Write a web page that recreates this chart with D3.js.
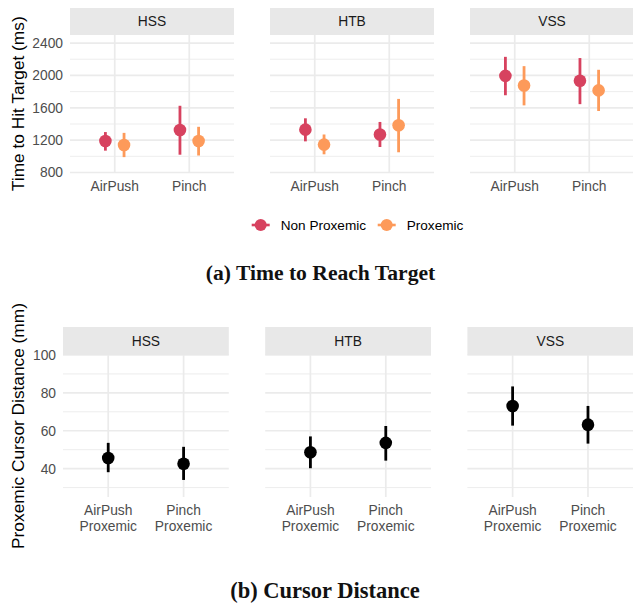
<!DOCTYPE html>
<html>
<head>
<meta charset="utf-8">
<script src="https://cdn.jsdelivr.net/npm/d3@7"></script>
<style>
  body { margin: 0; background: #fff; }
  svg { display: block; font-family: "Liberation Sans", Arial, sans-serif; }
</style>
</head>
<body>
<div id="chart"></div>
<script>
// facets / categories
const facets = ['HSS', 'HTB', 'VSS']
const techniques = ['AirPush', 'Pinch']
const conditions = ['Non Proxemic', 'Proxemic']
const condColors = ['#D7425F', '#FD9A5A']

// (a) time to hit target, ordered facet > technique > condition
const timeMean = [1190, 1140, 1325, 1190, 1330, 1145, 1270, 1385, 1995, 1875, 1935, 1815]
const timeLow  = [1070,  990, 1020, 1010, 1185, 1025, 1115, 1050, 1755, 1630, 1645, 1560]
const timeHigh = [1300, 1290, 1625, 1365, 1470, 1270, 1425, 1710, 2230, 2115, 2215, 2070]
const timeTicks = [800, 1200, 1600, 2000, 2400]
const timeMinor = [1000, 1400, 1800, 2200]

// (b) cursor distance, ordered facet > technique
const distLabels = ['AirPush\nProxemic', 'Pinch\nProxemic']
const distMean = [45.6, 42.6, 48.6, 53.6, 73.1, 63.2]
const distLow  = [38.1, 34.0, 40.2, 44.2, 62.7, 53.2]
const distHigh = [53.6, 51.5, 57.0, 62.5, 83.4, 73.1]
const distTicks = [40, 60, 80, 100]
const distMinor = [30, 50, 70, 90]

const W = 633, H = 606
const svg = d3.select('#chart').append('svg').attr('width', W).attr('height', H)

const GRID = '#EBEBEB'

function drawFacets ({ g, x0, x1, top, stripH, bottom, yDomain, ticks, minor, labels, yTitle }) {
  const fx = d3.scaleBand().domain(facets).range([x0, x1]).paddingInner(36 / 200).paddingOuter(0)
  const y = d3.scaleLinear().domain(yDomain).range([bottom, top + stripH])
  const px = d3.scalePoint().domain(techniques).range([0, fx.bandwidth()]).padding(0.6)

  facets.forEach(f => {
    const p = g.append('g').attr('transform', `translate(${fx(f)},0)`)
    p.selectAll('line.minor').data(minor).join('line').classed('minor', true)
      .attr('x1', 0).attr('x2', fx.bandwidth())
      .attr('y1', d => y(d)).attr('y2', d => y(d))
      .attr('stroke', GRID).attr('stroke-width', 0.9)
    p.selectAll('line.major').data(ticks).join('line').classed('major', true)
      .attr('x1', 0).attr('x2', fx.bandwidth())
      .attr('y1', d => y(d)).attr('y2', d => y(d))
      .attr('stroke', GRID).attr('stroke-width', 1.7)
    p.selectAll('line.vgrid').data(techniques).join('line').classed('vgrid', true)
      .attr('x1', d => px(d)).attr('x2', d => px(d))
      .attr('y1', top + stripH).attr('y2', bottom)
      .attr('stroke', GRID).attr('stroke-width', 1.7)
    // strip
    p.append('rect').attr('x', 0).attr('y', top).attr('width', fx.bandwidth()).attr('height', stripH)
      .attr('fill', '#E8E8E8')
    p.append('text').attr('x', fx.bandwidth() / 2).attr('y', top + stripH / 2)
      .attr('dy', '0.36em').attr('text-anchor', 'middle')
      .attr('font-size', 13.8).attr('fill', '#1A1A1A').text(f)
    // x labels
    const xl = p.selectAll('text.xl').data(techniques).join('text').classed('xl', true)
      .attr('text-anchor', 'middle').attr('font-size', 13.8).attr('fill', '#4D4D4D')
      .attr('transform', d => `translate(${px(d)},${bottom + 18})`)
    xl.each(function (d, i) {
      const lines = labels[i].split('\n')
      d3.select(this).selectAll('tspan').data(lines).join('tspan')
        .attr('x', 0).attr('y', (l, j) => j * 15.5).text(l => l)
    })
  })

  // y axis labels on first panel
  const ax = g.append('g').attr('transform', `translate(${x0 - 7},0)`)
    .call(d3.axisLeft(y).tickValues(ticks).tickFormat(d3.format('d')).tickSize(0).tickPadding(0))
  ax.select('.domain').remove()
  ax.selectAll('text').attr('font-size', 13.8).attr('fill', '#4D4D4D')
    .attr('font-family', '"Liberation Sans", Arial, sans-serif')

  g.append('text')
    .attr('transform', `translate(18,${(top + stripH + bottom) / 2}) rotate(-90)`)
    .attr('text-anchor', 'middle').attr('dy', '0.36em')
    .attr('font-size', 17.3).attr('fill', '#000').text(yTitle)

  return { fx, px, y }
}

// ---- (a) time to hit target
const gA = svg.append('g')
const a = drawFacets({
  g: gA, x0: 70, x1: 634, top: 8, stripH: 27, bottom: 172.5,
  yDomain: [800, 2500], ticks: timeTicks, minor: timeMinor,
  labels: techniques, yTitle: 'Time to Hit Target (ms)'
})
const dodge = a.px.step() * 0.125
const timeRows = []
facets.forEach((f, fi) => techniques.forEach((t, ti) => conditions.forEach((c, ci) => {
  const k = fi * 4 + ti * 2 + ci
  timeRows.push({ f, t, ci, mean: timeMean[k], lo: timeLow[k], hi: timeHigh[k] })
})))
const ptA = gA.selectAll('g.pr').data(timeRows).join('g').classed('pr', true)
  .attr('transform', d => `translate(${a.fx(d.f) + a.px(d.t) + (d.ci === 0 ? -dodge : dodge)},0)`)
ptA.append('line').attr('y1', d => a.y(d.lo)).attr('y2', d => a.y(d.hi))
  .attr('stroke', d => condColors[d.ci]).attr('stroke-width', 2.8)
ptA.append('circle').attr('cy', d => a.y(d.mean)).attr('r', 6.3)
  .attr('fill', d => condColors[d.ci])

// legend
const legX = [260.7, 386.7]
const leg = gA.selectAll('g.leg').data(conditions).join('g').classed('leg', true)
  .attr('transform', (d, i) => `translate(${legX[i]},225)`)
leg.append('line').attr('x1', -9).attr('x2', 9).attr('stroke', (d, i) => condColors[i]).attr('stroke-width', 2.6)
leg.append('circle').attr('r', 6).attr('fill', (d, i) => condColors[i])
leg.append('text').attr('x', 20).attr('dy', '0.36em').attr('font-size', 13.6).attr('fill', '#000').text(d => d)

svg.append('text').attr('x', 320.5).attr('y', 279.5).attr('text-anchor', 'middle')
  .attr('font-family', '"Liberation Serif", "Times New Roman", serif')
  .attr('font-weight', 'bold').attr('font-size', 21.6).attr('fill', '#111')
  .text('(a) Time to Reach Target')

// ---- (b) cursor distance
const gB = svg.append('g')
const b = drawFacets({
  g: gB, x0: 63, x1: 633 + 0.2, top: 327, stripH: 28, bottom: 497,
  yDomain: [25, 100], ticks: distTicks, minor: distMinor,
  labels: distLabels, yTitle: 'Proxemic Cursor Distance (mm)'
})
const distRows = []
facets.forEach((f, fi) => techniques.forEach((t, ti) => {
  const k = fi * 2 + ti
  distRows.push({ f, t, mean: distMean[k], lo: distLow[k], hi: distHigh[k] })
}))
const ptB = gB.selectAll('g.pr').data(distRows).join('g').classed('pr', true)
  .attr('transform', d => `translate(${b.fx(d.f) + b.px(d.t)},0)`)
ptB.append('line').attr('y1', d => b.y(d.lo)).attr('y2', d => b.y(d.hi))
  .attr('stroke', '#000').attr('stroke-width', 2.8)
ptB.append('circle').attr('cy', d => b.y(d.mean)).attr('r', 6.3).attr('fill', '#000')

svg.append('text').attr('x', 325).attr('y', 598).attr('text-anchor', 'middle')
  .attr('font-family', '"Liberation Serif", "Times New Roman", serif')
  .attr('font-weight', 'bold').attr('font-size', 22.5).attr('fill', '#111')
  .text('(b) Cursor Distance')
</script>
</body>
</html>
